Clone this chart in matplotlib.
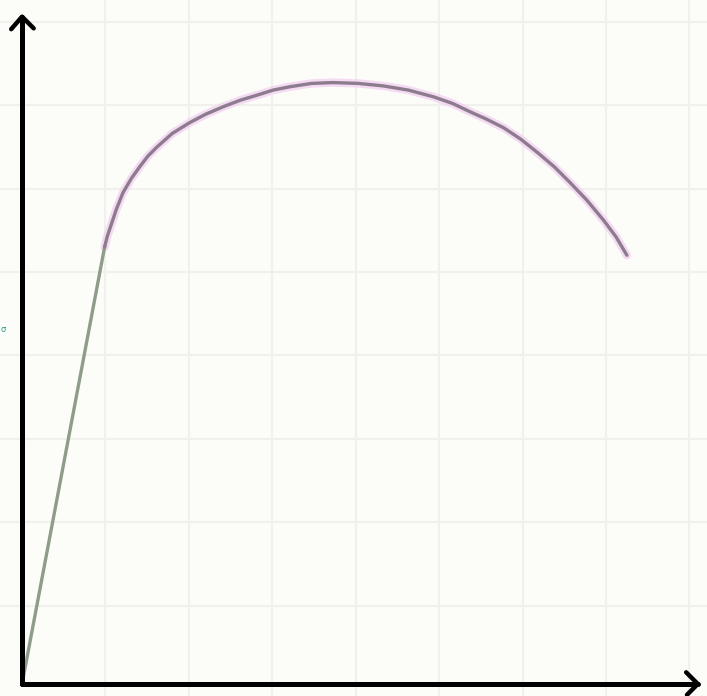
import matplotlib.pyplot as plt
import numpy as np

# stress-strain sketch, units = one grid square
elastic_x = [0.0, 0.99]
elastic_y = [0.0, 5.24]

plastic_x = [0.99, 1.02, 1.06, 1.13, 1.21, 1.31, 1.41, 1.51, 1.62, 1.80,
             2.01, 2.20, 2.41, 2.62, 2.82, 3.01, 3.21, 3.47, 3.73, 4.03,
             4.33, 4.63, 4.93, 5.16, 5.37, 5.57, 5.77, 5.98, 6.18, 6.38,
             6.57, 6.77, 6.97, 7.12, 7.25]
plastic_y = [5.24, 5.36, 5.48, 5.69, 5.89, 6.06, 6.20, 6.33, 6.44, 6.60,
             6.73, 6.83, 6.92, 7.00, 7.06, 7.12, 7.16, 7.20, 7.21, 7.20,
             7.17, 7.12, 7.04, 6.96, 6.86, 6.77, 6.67, 6.53, 6.37, 6.20,
             6.01, 5.80, 5.56, 5.36, 5.14]

fig = plt.figure(figsize=(7.07, 6.96), dpi=100)
fig.patch.set_facecolor('#fcfdf8')
ax = fig.add_axes([0, 0, 1, 1])
ax.set_facecolor('#fcfdf8')
ax.set_xlim(-0.264, 8.21)
ax.set_ylim(-0.144, 8.2)

# paper grid
for gx in np.arange(1, 9):
    ax.axvline(gx, color='#f0f0ec', lw=1.5, zorder=0)
for gy in np.arange(0.94, 8.3, 1.0):
    ax.axhline(gy, color='#f0f0ec', lw=1.5, zorder=0)

# axes with open arrowheads
ax.plot([0, 0], [0, 8.0], color='black', lw=3.6, solid_capstyle='round', zorder=3)
ax.plot([0, 8.1], [0, 0], color='black', lw=3.6, solid_capstyle='round', zorder=3)
ax.plot([-0.13, 0, 0.14], [7.85, 8.0, 7.86], color='black', lw=3.2,
        solid_capstyle='round', solid_joinstyle='round', zorder=3)
ax.plot([7.96, 8.1, 7.97], [0.14, 0, -0.13], color='black', lw=3.2,
        solid_capstyle='round', solid_joinstyle='round', zorder=3)

# curve
ax.plot(elastic_x, elastic_y, color='#8f9c8a', lw=2.4, zorder=2)
ax.plot(plastic_x, plastic_y, color='#f3d2f1', lw=6, alpha=0.8,
        solid_capstyle='round', solid_joinstyle='round', zorder=1)
ax.plot(plastic_x, plastic_y, color='#8d7b8e', lw=2.4,
        solid_capstyle='round', solid_joinstyle='round', zorder=2)

# small label mark at the left edge
fig.text(0.001, 0.527, 'σ', color='#2a9a8a', fontsize=6, ha='left', va='center')

ax.axis('off')
fig.savefig('out.png', dpi=100, facecolor=fig.get_facecolor())
